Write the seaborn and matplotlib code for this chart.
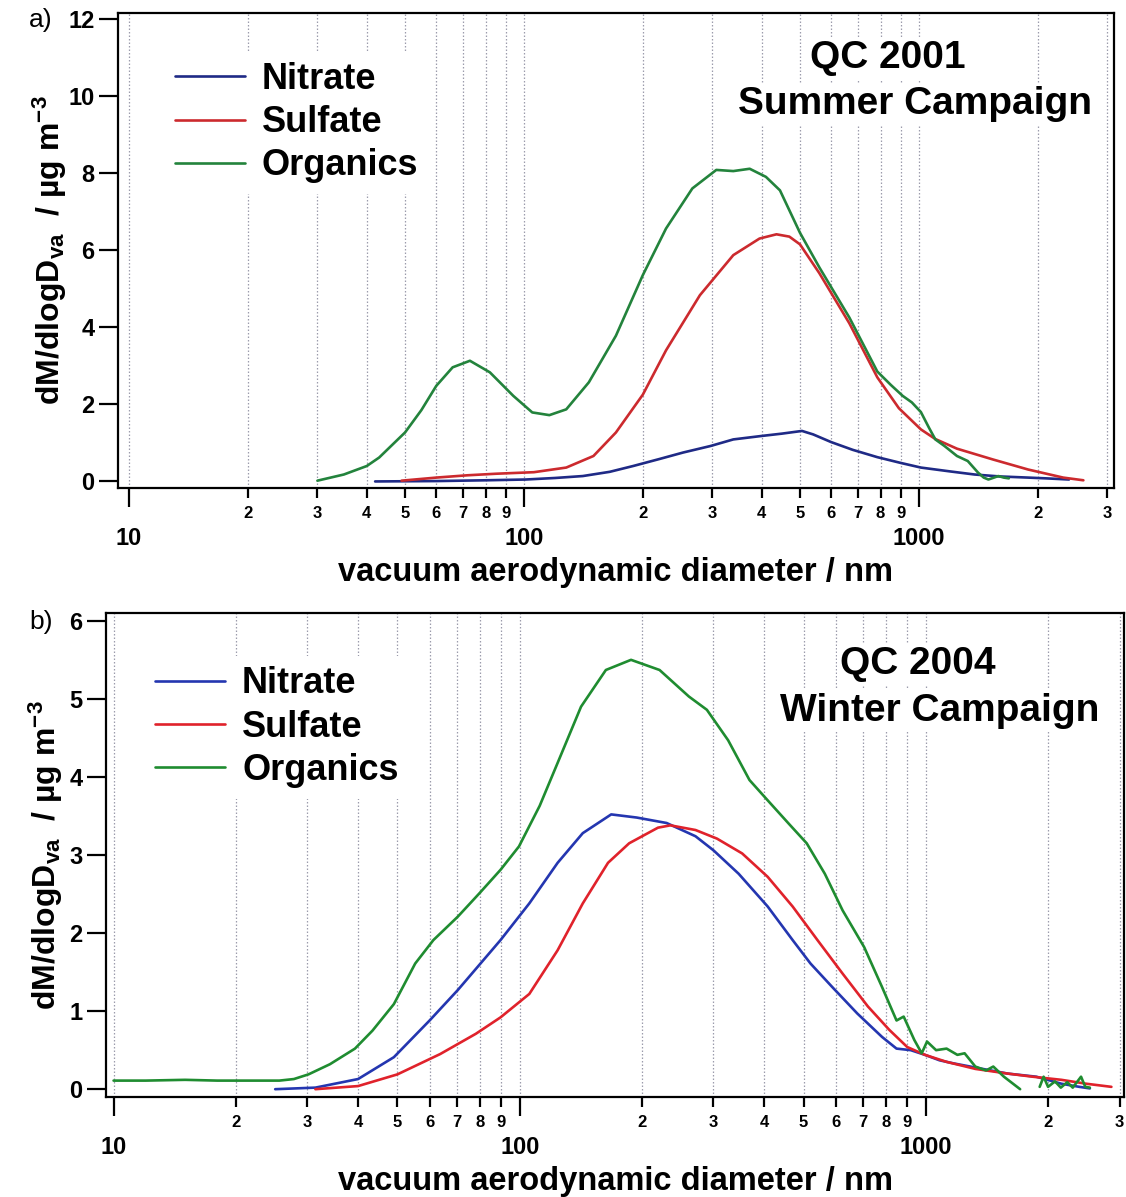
import numpy as np
import pandas as pd
import matplotlib
matplotlib.use("Agg")
import matplotlib.pyplot as plt
from matplotlib.lines import Line2D
from matplotlib.ticker import FixedLocator, FixedFormatter
import seaborn as sns

# ---- size distributions, QC 2001 summer campaign (diameter nm, dM/dlogDva ug m-3)
a_nitrate_d = [42, 60, 80, 101, 120, 141, 165, 189, 220, 253, 297, 339, 400, 450, 506,
               540, 600, 680, 785, 900, 1012, 1200, 1384, 1600, 1890, 2100, 2400]
a_nitrate_v = [0.0, 0.01, 0.03, 0.05, 0.09, 0.14, 0.25, 0.40, 0.58, 0.75, 0.92, 1.09, 1.18,
               1.24, 1.31, 1.22, 1.02, 0.82, 0.63, 0.48, 0.36, 0.26, 0.18, 0.13, 0.10, 0.08, 0.05]

a_sulfate_d = [49, 60, 72, 85, 106, 128, 150, 171, 200, 229, 279, 339, 395, 436, 470, 500,
               560, 667, 785, 890, 1012, 1101, 1249, 1540, 1890, 2320, 2610]
a_sulfate_v = [0.02, 0.10, 0.16, 0.20, 0.24, 0.36, 0.66, 1.27, 2.25, 3.40, 4.83, 5.87, 6.30,
               6.41, 6.35, 6.15, 5.40, 4.10, 2.70, 1.90, 1.35, 1.10, 0.85, 0.57, 0.31, 0.10, 0.03]

a_organics_d = [30, 35, 40, 43, 50, 55, 60, 66, 73, 82, 94, 105, 116, 128, 146, 171, 200,
                229, 267, 307, 339, 373, 410, 445, 500, 560, 667, 785, 850, 910, 960, 1012,
                1060, 1101, 1161, 1249, 1330, 1412, 1460, 1500, 1550, 1590, 1640, 1690]
a_organics_v = [0.02, 0.18, 0.40, 0.62, 1.27, 1.85, 2.48, 2.96, 3.13, 2.83, 2.22, 1.79, 1.72,
                1.87, 2.57, 3.78, 5.35, 6.56, 7.60, 8.08, 8.05, 8.11, 7.90, 7.55, 6.45, 5.55,
                4.25, 2.85, 2.50, 2.22, 2.05, 1.80, 1.40, 1.09, 0.92, 0.66, 0.53, 0.23, 0.10,
                0.05, 0.10, 0.14, 0.10, 0.08]

# ---- size distributions, QC 2004 winter campaign
b_nitrate_d = [25, 31.4, 40, 49, 60, 70.4, 89.7, 105.6, 124, 143, 168, 194, 219, 230, 271,
               300, 346, 408, 470, 520, 588, 678, 780, 847, 918, 995, 1081, 1172, 1380, 1590,
               1871, 2157, 2388, 2535]
b_nitrate_v = [0.0, 0.02, 0.13, 0.41, 0.88, 1.27, 1.91, 2.38, 2.90, 3.28, 3.52, 3.48, 3.43,
               3.41, 3.24, 3.06, 2.76, 2.34, 1.91, 1.61, 1.31, 0.97, 0.67, 0.52, 0.50, 0.44,
               0.37, 0.33, 0.26, 0.20, 0.16, 0.07, 0.03, 0.01]

b_sulfate_d = [31.4, 40, 50, 63.7, 78, 89.7, 105.6, 124, 143, 165, 186, 219, 235, 271, 306,
               353, 408, 470, 541, 624, 720, 813, 900, 995, 1125, 1324, 1590, 1832, 2157,
               2483, 2864]
b_sulfate_v = [0.0, 0.04, 0.19, 0.45, 0.71, 0.92, 1.22, 1.78, 2.38, 2.90, 3.15, 3.35, 3.38,
               3.32, 3.21, 3.02, 2.72, 2.34, 1.91, 1.48, 1.06, 0.76, 0.54, 0.44, 0.35, 0.26,
               0.20, 0.16, 0.12, 0.07, 0.03]

b_organics_d = [10, 12, 15, 18, 22, 25.6, 27.8, 30.2, 34.1, 39.3, 43.4, 49, 55.3, 61.3, 70.4,
                79.6, 89.7, 99.6, 112, 124, 141.6, 163, 188, 221, 261, 289, 326, 368, 408,
                460, 509, 564, 624, 705, 780, 847, 882, 937, 977, 1007, 1060, 1125, 1196,
                1246, 1324, 1407, 1466, 1557, 1707]
b_organics_v = [0.11, 0.11, 0.12, 0.11, 0.11, 0.11, 0.13, 0.19, 0.32, 0.52, 0.75, 1.09, 1.61,
                1.91, 2.21, 2.51, 2.81, 3.11, 3.63, 4.18, 4.90, 5.37, 5.50, 5.37, 5.03, 4.86,
                4.47, 3.96, 3.70, 3.40, 3.15, 2.76, 2.29, 1.82, 1.31, 0.88, 0.93, 0.63, 0.46,
                0.61, 0.50, 0.52, 0.44, 0.46, 0.29, 0.24, 0.29, 0.16, 0.0]
b_organics_tail_d = [1907, 1950, 2000, 2080, 2150, 2230, 2300, 2411, 2470, 2535]
b_organics_tail_v = [0.03, 0.16, 0.03, 0.10, 0.02, 0.09, 0.02, 0.16, 0.03, 0.02]

species = ["Nitrate", "Sulfate", "Organics"]
major_ticks = [10, 100, 1000]
major_labels = ["10", "100", "1000"]
minor_ticks = [20, 30, 40, 50, 60, 70, 80, 90, 200, 300, 400, 500, 600, 700, 800, 900, 2000, 3000]
minor_labels = ["2", "3", "4", "5", "6", "7", "8", "9", "2", "3", "4", "5", "6", "7", "8", "9", "2", "3"]

colors_a = {"Nitrate": "#1f2a86", "Sulfate": "#cc2a2e", "Organics": "#23833c"}
colors_b = {"Nitrate": "#2436b0", "Sulfate": "#e0222b", "Organics": "#1f8c30"}


def frame(segments):
    rows = []
    for name, seg, d, v in segments:
        rows.append(pd.DataFrame({"species": name, "segment": seg, "d": d, "v": v}))
    return pd.concat(rows, ignore_index=True)


df_a = frame([
    ("Nitrate", "n", a_nitrate_d, a_nitrate_v),
    ("Sulfate", "s", a_sulfate_d, a_sulfate_v),
    ("Organics", "o", a_organics_d, a_organics_v),
])
df_b = frame([
    ("Nitrate", "n", b_nitrate_d, b_nitrate_v),
    ("Sulfate", "s", b_sulfate_d, b_sulfate_v),
    ("Organics", "o1", b_organics_d, b_organics_v),
    ("Organics", "o2", b_organics_tail_d, b_organics_tail_v),
])

sns.set_style("white")
plt.rcParams["font.family"] = ["Liberation Sans", "DejaVu Sans"]
plt.rcParams["font.weight"] = "bold"
plt.rcParams["text.color"] = "black"
plt.rcParams["axes.labelcolor"] = "black"
plt.rcParams["xtick.color"] = "black"
plt.rcParams["ytick.color"] = "black"
plt.rcParams["mathtext.fontset"] = "custom"
plt.rcParams["mathtext.rm"] = "Liberation Sans:bold"
plt.rcParams["mathtext.it"] = "Liberation Sans:bold"
plt.rcParams["mathtext.bf"] = "Liberation Sans:bold"

W, H = 1126, 1197
fig = plt.figure(figsize=(W / 100, H / 100), dpi=100)


def px_axes(l, t, r, b):
    return fig.add_axes([l / W, 1 - b / H, (r - l) / W, (b - t) / H])


ax_a = px_axes(118, 13, 1114, 488)
ax_b = px_axes(106, 613, 1124, 1097)

ylabel = r"dM/dlogD$_{\mathrm{va}}$  / µg m$^{\mathrm{-3}}$"


def style_axes(ax, df, colors, xlim, ylim, yticks, label_x):
    sns.lineplot(data=df, x="d", y="v", hue="species", units="segment", estimator=None,
                 sort=False, palette=colors, hue_order=species, linewidth=1.9,
                 legend=False, ax=ax, zorder=3)
    ax.set_xscale("log")
    ax.set_xlim(*xlim)
    ax.set_ylim(*ylim)
    ax.xaxis.set_major_locator(FixedLocator(major_ticks))
    ax.xaxis.set_major_formatter(FixedFormatter(major_labels))
    ax.xaxis.set_minor_locator(FixedLocator(minor_ticks))
    ax.xaxis.set_minor_formatter(FixedFormatter(minor_labels))
    ax.set_yticks(yticks)
    ax.set_yticklabels([str(t) for t in yticks])
    ax.tick_params(axis="x", which="major", direction="out", length=14, width=1.6,
                   pad=14, labelsize=17, bottom=True, colors="black")
    ax.tick_params(axis="x", which="minor", direction="out", length=7, width=1.6,
                   pad=6, labelsize=12, bottom=True, colors="black")
    ax.tick_params(axis="y", direction="out", length=14, width=1.6, pad=3,
                   labelsize=17, left=True, colors="black")
    for lab in ax.get_xticklabels(which="both") + ax.get_yticklabels():
        lab.set_fontweight("bold")
    for sp in ax.spines.values():
        sp.set_visible(True)
        sp.set_color("black")
        sp.set_linewidth(1.6)
    ax.grid(True, which="both", axis="x", color="#9c9cac", linestyle=(0, (1.2, 1.6)),
            linewidth=0.9, zorder=0)
    ax.grid(False, axis="y")
    ax.set_axisbelow(True)
    ax.set_xlabel("vacuum aerodynamic diameter / nm", fontsize=23.5, fontweight="bold",
                  labelpad=5)
    ax.set_ylabel(ylabel, fontsize=23, fontweight="bold")
    ax.yaxis.set_label_coords(label_x, 0.5)


style_axes(ax_a, df_a, colors_a, (9.38, 3120), (-0.17, 12.15), list(range(0, 13, 2)), -0.049)
style_axes(ax_b, df_b, colors_b, (9.58, 3076), (-0.1, 6.1), list(range(0, 7)), -0.040)


def legend(ax, colors, anchor):
    handles = [Line2D([0], [0], color=colors[s], lw=1.9) for s in species]
    leg = ax.legend(handles, species, loc="upper left", bbox_to_anchor=anchor,
                    frameon=True, facecolor="white", edgecolor="none",
                    framealpha=1.0, handlelength=1.94, handletextpad=0.47,
                    labelspacing=0.23, borderpad=0.3, borderaxespad=0.0,
                    prop={"weight": "bold", "size": 26})
    leg.set_zorder(5)


legend(ax_a, colors_a, (0.046, 0.92))
legend(ax_b, colors_b, (0.0375, 0.912))

box = dict(facecolor="white", edgecolor="none", pad=2)
ax_a.text(0.773, 0.905, "QC 2001", transform=ax_a.transAxes, ha="center", va="center",
          fontsize=28, fontweight="bold", bbox=box, zorder=5)
ax_a.text(0.800, 0.808, "Summer Campaign", transform=ax_a.transAxes, ha="center",
          va="center", fontsize=28, fontweight="bold", bbox=box, zorder=5)
ax_b.text(0.797, 0.895, "QC 2004", transform=ax_b.transAxes, ha="center", va="center",
          fontsize=28, fontweight="bold", bbox=box, zorder=5)
ax_b.text(0.819, 0.798, "Winter Campaign", transform=ax_b.transAxes, ha="center",
          va="center", fontsize=28, fontweight="bold", bbox=box, zorder=5)

fig.text(41 / W, 1 - 20 / H, "a)", ha="center", va="center", fontsize=19,
         fontweight="normal")
fig.text(41 / W, 1 - 622 / H, "b)", ha="center", va="center", fontsize=19,
         fontweight="normal")

fig.savefig("out.png", dpi=100, facecolor="white")
